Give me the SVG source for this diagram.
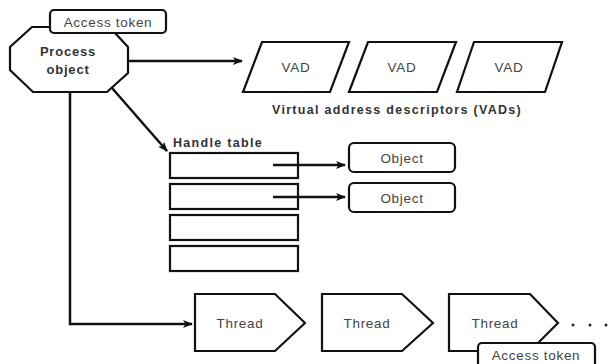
<svg xmlns="http://www.w3.org/2000/svg" width="609" height="364" viewBox="0 0 609 364">
<style>
.s{fill:#fff;stroke:#111;stroke-width:2.2;stroke-linejoin:miter}
.c{fill:none;stroke:#111;stroke-width:2.5}
.t{font-family:"Liberation Sans",Arial,sans-serif;font-size:13.5px;letter-spacing:0.7px;fill:#444;text-anchor:middle;dominant-baseline:central}
.b{font-family:"Liberation Sans",Arial,sans-serif;font-size:12.5px;letter-spacing:1.3px;font-weight:bold;fill:#333}
</style>
<defs>
<marker id="ah" markerWidth="10" markerHeight="8" refX="9" refY="4" orient="auto" markerUnits="userSpaceOnUse">
<path d="M0,0 L10,4 L0,8 L2.5,4 Z" fill="#111"/>
</marker>
</defs>
<rect width="609" height="364" fill="#fff"/>
<g id="process">
<polygon class="s" points="32,27 100,27 115,33 128,47 128,73 107,92 33,92 10,70 10,47"/>
<text class="b" x="68" y="56" text-anchor="middle" style="font-size:13px;letter-spacing:0.8px">Process</text>
<text class="b" x="68" y="74" text-anchor="middle" style="font-size:13px;letter-spacing:0.8px">object</text>
</g>
<g id="token1">
<rect class="s" x="50" y="10" width="116" height="23" rx="4"/>
<text class="t" x="108" y="22">Access token</text>
</g>
<g id="vad1">
<polygon class="s" points="262,42 349,42 330,92 243,92"/>
<text class="t" x="296" y="67">VAD</text>
</g>
<g id="vad2">
<polygon class="s" points="368,42 456,42 437,92 349,92"/>
<text class="t" x="402" y="67">VAD</text>
</g>
<g id="vad3">
<polygon class="s" points="474,42 562,42 545,92 457,92"/>
<text class="t" x="509" y="67">VAD</text>
</g>
<text class="b" x="397" y="114" text-anchor="middle">Virtual address descriptors (VADs)</text>
<g id="handletable">
<text class="b" x="173" y="147">Handle table</text>
<rect class="s" x="170" y="153" width="128" height="25"/>
<rect class="s" x="170" y="184" width="128" height="25"/>
<rect class="s" x="170" y="215" width="128" height="25"/>
<rect class="s" x="170" y="246" width="128" height="25"/>
</g>
<g id="object1">
<rect class="s" x="349" y="143" width="106" height="29" rx="5"/>
<text class="t" x="402" y="158">Object</text>
</g>
<g id="object2">
<rect class="s" x="349" y="183" width="106" height="29" rx="5"/>
<text class="t" x="402" y="198">Object</text>
</g>
<g id="thread1">
<polygon class="s" points="195,294 275,294 305,323 275,351 195,351"/>
<text class="t" x="240" y="323">Thread</text>
</g>
<g id="thread2">
<polygon class="s" points="322,294 402,294 433,323 402,351 322,351"/>
<text class="t" x="367" y="323">Thread</text>
</g>
<g id="thread3">
<polygon class="s" points="449,294 530,294 558,323 530,351 449,351"/>
<text class="t" x="495" y="323">Thread</text>
</g>
<g id="dots" fill="#222">
<circle cx="573" cy="325" r="1.5"/>
<circle cx="590" cy="325" r="1.5"/>
<circle cx="606" cy="325" r="1.5"/>
</g>
<g id="token2">
<rect class="s" x="478" y="343" width="117" height="26" rx="4"/>
<text class="t" x="536" y="355">Access token</text>
</g>
<g id="connectors">
<path class="c" d="M128,61 H242" marker-end="url(#ah)"/>
<path class="c" d="M112,88 L167,151" marker-end="url(#ah)"/>
<path class="c" d="M70,92 V324 H192" marker-end="url(#ah)"/>
<path class="c" d="M273,165 H345" marker-end="url(#ah)"/>
<path class="c" d="M273,197 H345" marker-end="url(#ah)"/>
</g>
</svg>
